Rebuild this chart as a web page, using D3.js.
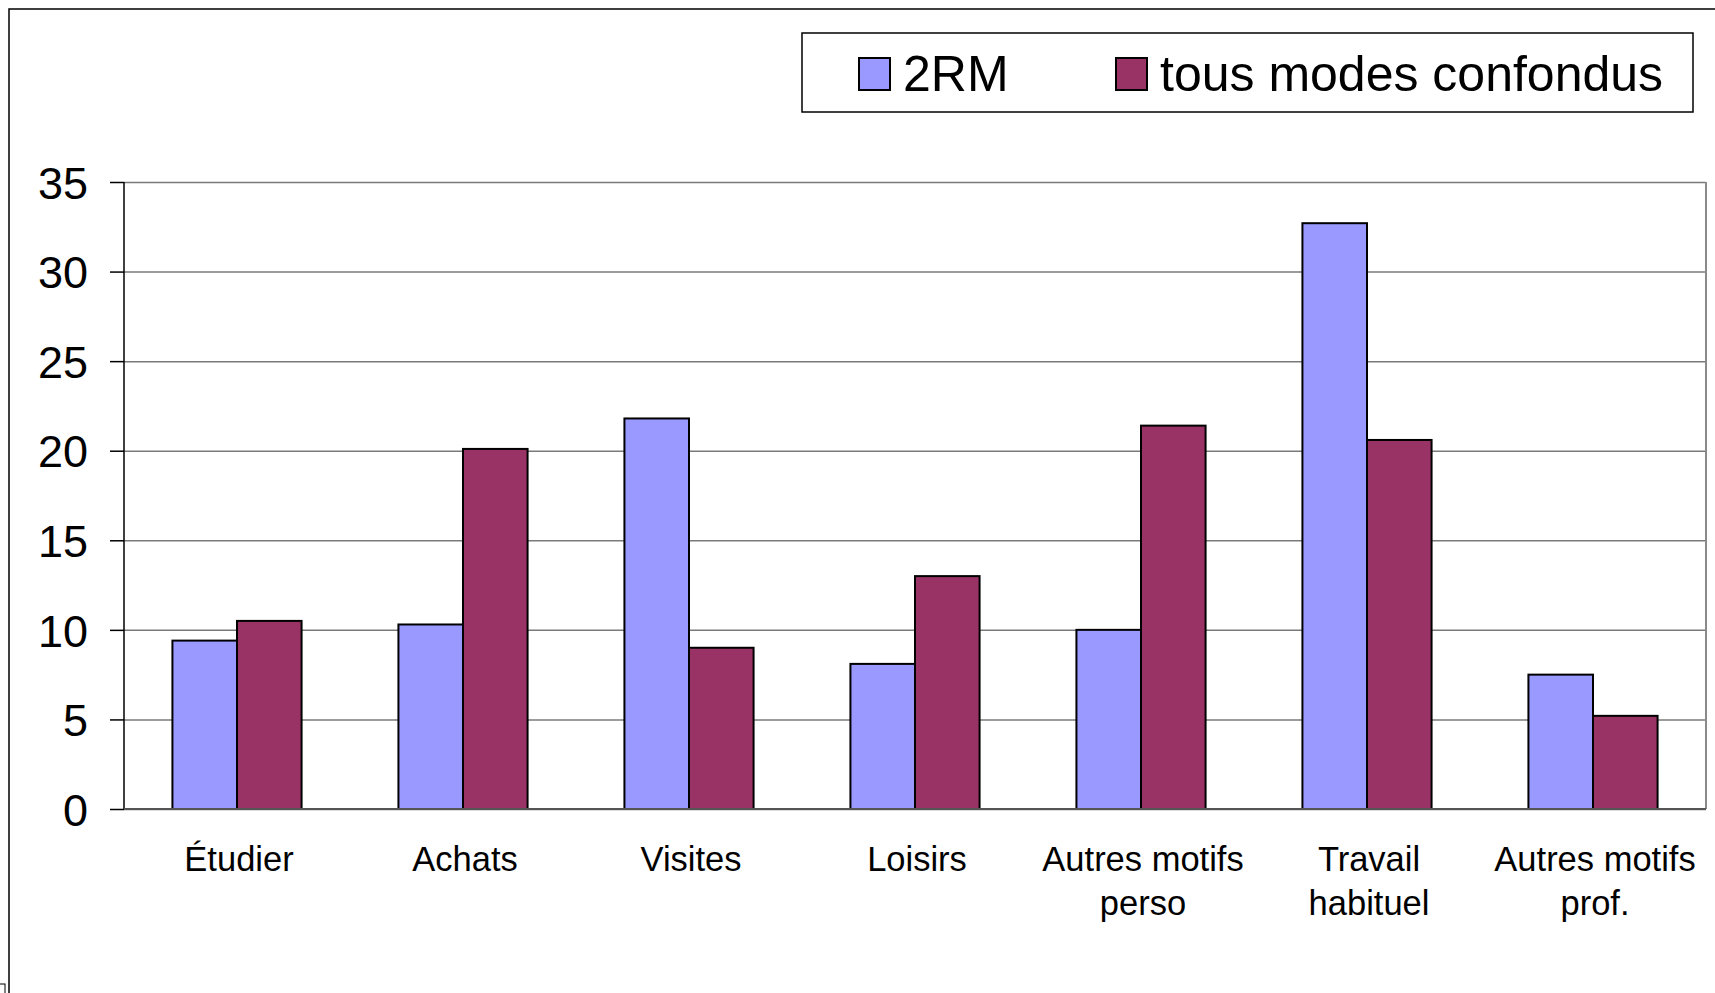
<!DOCTYPE html>
<html>
<head>
<meta charset="utf-8">
<script src="https://cdn.jsdelivr.net/npm/d3@7"></script>
<style>
  body { margin: 0; background: #fff; }
  svg { display: block; }
  text { font-family: "Liberation Sans", Arial, sans-serif; fill: #000; }
</style>
</head>
<body>
<div class="chart"></div>
<script>
//data
var categories = ["Étudier", "Achats", "Visites", "Loisirs", "Autres motifs\nperso", "Travail\nhabituel", "Autres motifs\nprof."];
var series = ["2RM", "tous modes confondus"];
var values2RM = [9.4, 10.3, 21.8, 8.1, 10.0, 32.7, 7.5];
var valuesTous = [10.5, 20.1, 9.0, 13.0, 21.4, 20.6, 5.2];
var yTicks = [0, 5, 10, 15, 20, 25, 30, 35];
var colors = ["#9999ff", "#993366"];

var W = 1715, H = 993;
var margin = {top: 182, right: 9, bottom: 184, left: 124};
var width = W - margin.left - margin.right,
    height = H - margin.top - margin.bottom;

var svg = d3.select("div.chart").append("svg")
    .attr("width", W)
    .attr("height", H);

//outer frame (runs off the right and bottom)
svg.append("rect")
    .attr("x", 9).attr("y", 9)
    .attr("width", W).attr("height", H)
    .attr("fill", "none")
    .attr("stroke", "#000")
    .attr("stroke-width", 1.5);
svg.append("rect")
    .attr("x", -1).attr("y", 984)
    .attr("width", 6).attr("height", 12)
    .attr("fill", "none")
    .attr("stroke", "#000")
    .attr("stroke-width", 1);

var g = svg.append("g")
    .attr("transform", "translate(" + margin.left + "," + margin.top + ")");

//scales - gap width 150% like excel
var x0 = d3.scaleBand()
    .domain(categories)
    .range([0, width])
    .paddingInner(1.5 / 3.5)
    .paddingOuter(0.75 / 3.5);
var x1 = d3.scaleBand()
    .domain(series)
    .range([0, x0.bandwidth()]);
var yScale = d3.scaleLinear()
    .domain([0, 35])
    .range([height, 0]);

//gridlines
var grid = g.append("g")
    .attr("class", "grid")
    .call(d3.axisLeft(yScale).tickValues(yTicks).tickSize(-width).tickFormat(""));
grid.select(".domain").remove();
grid.selectAll("line")
    .attr("stroke", "#7a7a7a")
    .attr("stroke-width", 1.5);

//plot area right border
g.append("line")
    .attr("x1", width).attr("x2", width)
    .attr("y1", 0).attr("y2", height)
    .attr("stroke", "#8a8a8a")
    .attr("stroke-width", 2);

//bars
var rows = categories.map(function(c, i) {
    return {cat: c, vals: [values2RM[i], valuesTous[i]]};
});
var groups = g.selectAll("g.group")
    .data(rows)
    .enter()
    .append("g")
    .attr("class", "group")
    .attr("transform", function(d) { return "translate(" + x0(d.cat) + ",0)"; });
groups.selectAll("rect")
    .data(function(d) {
        return d.vals.map(function(v, j) { return {s: series[j], v: v, j: j}; });
    })
    .enter()
    .append("rect")
    .attr("x", function(d) { return x1(d.s); })
    .attr("y", function(d) { return yScale(d.v); })
    .attr("width", x1.bandwidth())
    .attr("height", function(d) { return height - yScale(d.v); })
    .attr("fill", function(d) { return colors[d.j]; })
    .attr("stroke", "#000")
    .attr("stroke-width", 2);

//y axis
var yAxis = g.append("g")
    .attr("class", "y axis")
    .call(d3.axisLeft(yScale).tickValues(yTicks).tickSize(14).tickPadding(22));
yAxis.select(".domain")
    .attr("stroke", "#000")
    .attr("stroke-width", 1.5)
    .attr("d", "M0,0V" + height);
yAxis.selectAll("line").attr("stroke", "#000").attr("stroke-width", 1.5);
yAxis.selectAll("text")
    .attr("font-size", 45)
    .attr("dy", "0.36em")
    .style("font-family", "Liberation Sans, Arial, sans-serif");

//x axis line
g.append("line")
    .attr("x1", 0).attr("x2", width)
    .attr("y1", height).attr("y2", height)
    .attr("stroke", "#555")
    .attr("stroke-width", 2);

//category labels (two lines where needed)
var xAxis = g.append("g")
    .attr("class", "x axis")
    .attr("transform", "translate(0," + height + ")")
    .call(d3.axisBottom(x0).tickSize(0).tickFormat(""));
xAxis.select(".domain").remove();
xAxis.selectAll(".tick").each(function(d) {
    var t = d3.select(this).append("text")
        .attr("text-anchor", "middle")
        .attr("font-size", 34.5)
        .attr("x", 2);
    d.split("\n").forEach(function(line, k) {
        t.append("tspan")
            .attr("x", 2)
            .attr("y", 62 + k * 44)
            .text(line);
    });
});

//legend
var legend = svg.append("g").attr("class", "legend");
legend.append("rect")
    .attr("x", 802).attr("y", 33)
    .attr("width", 891).attr("height", 79)
    .attr("fill", "#fff")
    .attr("stroke", "#000")
    .attr("stroke-width", 1.5);
var legendX = [859, 1116];
series.forEach(function(s, i) {
    legend.append("rect")
        .attr("x", legendX[i]).attr("y", 58)
        .attr("width", 31).attr("height", 32)
        .attr("fill", colors[i])
        .attr("stroke", "#000")
        .attr("stroke-width", 2);
    legend.append("text")
        .attr("x", legendX[i] + 44)
        .attr("y", 91)
        .attr("font-size", 50)
        .text(s);
});
</script>
</body>
</html>
